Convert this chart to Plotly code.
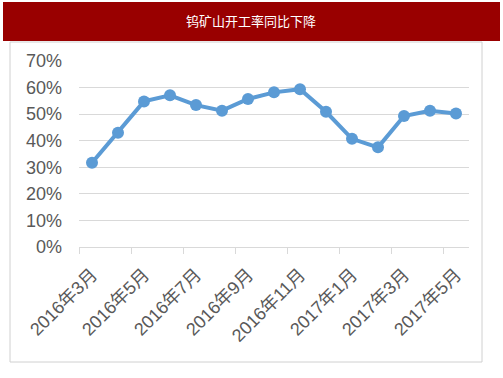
import plotly.graph_objects as go

title_text = "钨矿山开工率同比下降"
months = ["2016年3月", "2016年4月", "2016年5月", "2016年6月", "2016年7月", "2016年8月",
          "2016年9月", "2016年10月", "2016年11月", "2016年12月", "2017年1月", "2017年2月",
          "2017年3月", "2017年4月", "2017年5月"]
rates = [0.317, 0.430, 0.548, 0.571, 0.534, 0.513, 0.557, 0.582, 0.594,
         0.509, 0.407, 0.375, 0.493, 0.513, 0.502]
y_ticks = [0, 0.1, 0.2, 0.3, 0.4, 0.5, 0.6, 0.7]

W, H = 503, 378
L, R, T, B = 79, 34, 61, 131
fam = "Liberation Sans, Noto Sans CJK SC, sans-serif"

fig = go.Figure()
fig.add_trace(go.Scatter(
    x=months, y=rates, mode="lines+markers",
    line=dict(color="#5B9BD5", width=4),
    marker=dict(color="#5B9BD5", size=12),
    hoverinfo="skip", showlegend=False,
))

pw = W - L - R
ph = H - T - B
def px(x):
    return (x - L) / pw
def py(y):
    return (H - B - y) / ph

fig.update_layout(
    width=W, height=H,
    margin=dict(l=L, r=R, t=T, b=B),
    paper_bgcolor="white", plot_bgcolor="white",
    font=dict(family=fam, color="#595959"),
    xaxis=dict(
        type="category", dtick=2, tickson="boundaries",
        ticks="outside", ticklen=6, tickcolor="#D9D9D9",
        tickangle=-45, tickfont=dict(size=18, color="#595959"),
        ticklabelstandoff=9,
        showgrid=False, showline=True, linecolor="#D9D9D9", linewidth=1,
        range=[-0.5, len(months) - 0.5],
    ),
    yaxis=dict(
        range=[0, 0.7], tickvals=y_ticks, tickformat=".0%",
        tickfont=dict(size=18, color="#595959"),
        showgrid=True, gridcolor="#D9D9D9", gridwidth=1,
        zeroline=False, showline=False, ticklabelstandoff=16,
    ),
    shapes=[
        dict(type="rect", xref="paper", yref="paper",
             x0=px(10), x1=px(482), y0=py(362), y1=py(42),
             line=dict(color="#D0D0D0", width=1), fillcolor="rgba(0,0,0,0)", layer="above"),
        dict(type="rect", xref="paper", yref="paper",
             x0=px(3), x1=px(500), y0=py(41), y1=py(2),
             line=dict(width=0), fillcolor="#990000", layer="above"),
    ],
)
fig.add_annotation(
    text=title_text, xref="paper", yref="paper",
    x=px(251), y=py(21), xanchor="center", yanchor="middle",
    showarrow=False, font=dict(family="Noto Sans CJK SC", size=13, color="white"),
)

fig.write_html("out.html")
